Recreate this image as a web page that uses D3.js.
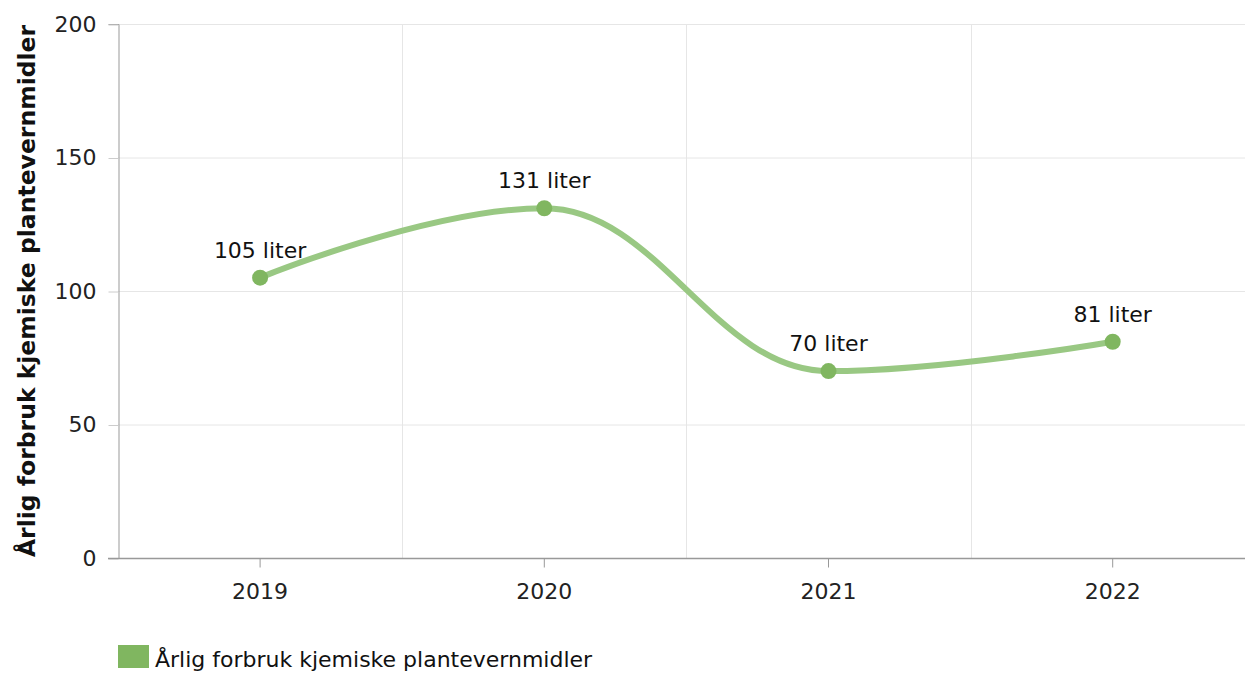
<!DOCTYPE html>
<html>
<head>
<meta charset="utf-8">
<script src="https://cdn.jsdelivr.net/npm/d3@7"></script>
<style>
  body { margin: 0; background: #fff; }
  svg { display: block; font-family: "DejaVu Sans", Verdana, sans-serif; }
</style>
</head>
<body>
<div id="chart"></div>
<script>
// data
const years = ["2019", "2020", "2021", "2022"];
const values = [105, 131, 70, 81];
const yTicks = [0, 50, 100, 150, 200];
const seriesName = "Årlig forbruk kjemiske plantevernmidler";
const yTitle = "Årlig forbruk kjemiske plantevernmidler";

const W = 1245, H = 673;
const margin = {top: 24, left: 118, bottom: 115};
const plotBottom = H - margin.bottom;   // 558
const bandW = 284.2;
const fontSize = 22;

const svg = d3.select("#chart").append("svg")
    .attr("width", W)
    .attr("height", H);

const xScale = d3.scaleBand()
    .domain(years)
    .range([margin.left, margin.left + bandW * years.length]);
const yScale = d3.scaleLinear()
    .domain([0, 200])
    .range([plotBottom, margin.top]);

// gridlines
svg.append("g").selectAll("line.hgrid")
    .data(yTicks.filter(d => d > 0))
    .join("line")
    .attr("x1", margin.left).attr("x2", W)
    .attr("y1", d => yScale(d) + 0.5).attr("y2", d => yScale(d) + 0.5)
    .attr("stroke", "#e6e6e6");

svg.append("g").selectAll("line.vgrid")
    .data(years.slice(1))
    .join("line")
    .attr("x1", d => Math.round(xScale(d)) + 0.5).attr("x2", d => Math.round(xScale(d)) + 0.5)
    .attr("y1", margin.top).attr("y2", plotBottom)
    .attr("stroke", "#e6e6e6");

// y axis
const yAxis = svg.append("g")
    .attr("transform", "translate(" + (margin.left + 0.5) + ",0)")
    .call(d3.axisLeft(yScale).tickValues(yTicks).tickSize(10).tickPadding(12));
yAxis.select(".domain").attr("stroke", "#999");
yAxis.selectAll(".tick line").attr("stroke", "#ccc").attr("transform", "translate(0,0.5)");
yAxis.selectAll(".tick text")
    .attr("font-size", fontSize).attr("fill", "#222")
    .attr("font-family", "DejaVu Sans, Verdana, sans-serif");

// x axis
const xAxis = svg.append("g")
    .attr("transform", "translate(0," + (plotBottom + 0.5) + ")")
    .call(d3.axisBottom(xScale).tickSizeOuter(0).tickSize(9).tickPadding(16));
xAxis.select(".domain").remove();
xAxis.append("line")
    .attr("x1", 108).attr("x2", W)
    .attr("stroke", "#999").attr("stroke-width", 1.5);
xAxis.selectAll(".tick line").attr("stroke", "#999");
xAxis.selectAll(".tick text")
    .attr("font-size", fontSize).attr("fill", "#222")
    .attr("font-family", "DejaVu Sans, Verdana, sans-serif");

// axis title
svg.append("text")
    .attr("transform", "translate(35," + ((margin.top + plotBottom) / 2) + ") rotate(-90)")
    .attr("text-anchor", "middle")
    .attr("font-size", 23.5)
    .attr("font-weight", "bold")
    .attr("fill", "#111")
    .text(yTitle);

// highcharts-like spline through the points
const pts = values.map((v, i) => ({x: xScale(years[i]) + xScale.bandwidth() / 2, y: yScale(v)}));
function splinePath(p) {
    const smoothing = 1.5, denom = smoothing + 1;
    const path = d3.path();
    path.moveTo(p[0].x, p[0].y);
    for (let i = 1; i < p.length; i++) {
        const cur = p[i], last = p[i - 1], next = p[i + 1];
        let lcx = cur.x, lcy = cur.y;
        if (next) {
            lcx = (smoothing * cur.x + last.x) / denom;
            lcy = (smoothing * cur.y + last.y) / denom;
            let rcx = (smoothing * cur.x + next.x) / denom;
            let rcy = (smoothing * cur.y + next.y) / denom;
            const corr = ((rcy - lcy) * (rcx - cur.x)) / (rcx - lcx) + cur.y - rcy;
            lcy += corr; rcy += corr;
            if (lcy > last.y && lcy > cur.y) { lcy = Math.max(last.y, cur.y); rcy = 2 * cur.y - lcy; }
            else if (lcy < last.y && lcy < cur.y) { lcy = Math.min(last.y, cur.y); rcy = 2 * cur.y - lcy; }
            if (rcy > next.y && rcy > cur.y) { rcy = Math.max(next.y, cur.y); lcy = 2 * cur.y - rcy; }
            else if (rcy < next.y && rcy < cur.y) { rcy = Math.min(next.y, cur.y); lcy = 2 * cur.y - rcy; }
            cur.rcx = rcx; cur.rcy = rcy;
        }
        const r0x = last.rcx !== undefined ? last.rcx : last.x;
        const r0y = last.rcy !== undefined ? last.rcy : last.y;
        path.bezierCurveTo(r0x, r0y, lcx, lcy, cur.x, cur.y);
    }
    return path.toString();
}

svg.append("path")
    .attr("d", splinePath(pts))
    .attr("fill", "none")
    .attr("stroke", "#99c883")
    .attr("stroke-width", 6)
    .attr("stroke-linecap", "round");

svg.append("g").selectAll("circle")
    .data(pts)
    .join("circle")
    .attr("cx", d => d.x).attr("cy", d => d.y)
    .attr("r", 8)
    .attr("fill", "#80b660");

svg.append("g").selectAll("text")
    .data(values)
    .join("text")
    .attr("x", (d, i) => pts[i].x)
    .attr("y", (d, i) => pts[i].y - 20)
    .attr("text-anchor", "middle")
    .attr("font-size", fontSize)
    .attr("fill", "#111")
    .text(d => d + " liter");

// legend
const legend = svg.append("g").attr("transform", "translate(118,645)");
legend.append("rect")
    .attr("width", 31).attr("height", 23)
    .attr("fill", "#80b660");
legend.append("text")
    .attr("x", 37).attr("y", 22)
    .attr("font-size", fontSize)
    .attr("fill", "#111")
    .text(seriesName);
</script>
</body>
</html>
